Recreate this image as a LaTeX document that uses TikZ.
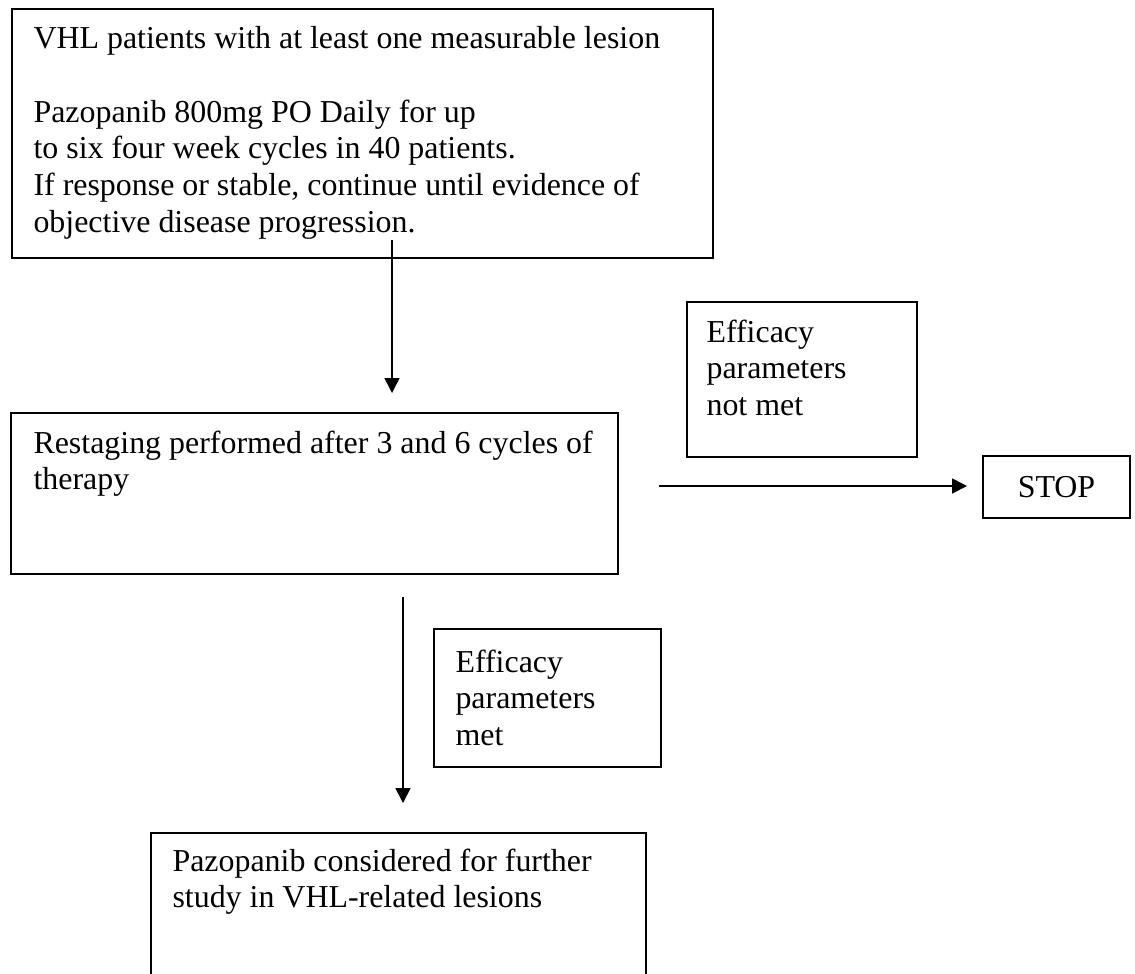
\documentclass[tikz,border=0pt]{standalone}
\usepackage{fontspec}
\setmainfont{Liberation Serif}
\usetikzlibrary{arrows.meta}
\newlength\px
\setlength\px{0.376pt}
\tikzset{
  box/.style={draw, line width=0.75pt, inner sep=0pt, anchor=north west},
  txt/.style={anchor=north west, inner sep=0pt, align=left, font=\fontsize{12}{13.8}\selectfont},
  flow/.style={-{Triangle[length=5.6pt,width=5.6pt]}, line width=0.6pt}
}
\begin{document}
\begin{tikzpicture}[x=\px, y=-\px]
    \clip (0,0) rectangle (1135,973);
    \node[box, minimum width=701*\px, minimum height=249*\px] (intake) at (11,8) {};
    \node[box, minimum width=607*\px, minimum height=161*\px] (restage) at (10,412) {};
    \node[box, minimum width=230*\px, minimum height=155*\px] (notmet) at (686,301) {};
    \node[box, minimum width=147*\px, minimum height=62*\px] (stop) at (982,455) {};
    \node[box, minimum width=227*\px, minimum height=138*\px] (met) at (433,628) {};
    \node[box, minimum width=495*\px, minimum height=200*\px] (further) at (150,832) {};
    % texts
    \node[txt] (intake-t) at (33,26) {VHL patients with at least one measurable lesion\\[13.8pt]
      Pazopanib 800mg PO Daily for up\\
      to six four week cycles in 40 patients.\\
      If response or stable, continue until evidence of\\
      objective disease progression.};
    \node[txt] (restage-t) at (33,430) {Restaging performed after 3 and 6 cycles of\\therapy};
    \node[txt] (notmet-t) at (706,319) {Efficacy\\parameters\\not met};
    \node[txt, anchor=center] (stop-t) at (stop.center) {STOP};
    \node[txt] (met-t) at (455,649) {Efficacy\\parameters\\met};
    \node[txt] (further-t) at (172,848) {Pazopanib considered for further\\study in VHL-related lesions};
    % arrows
    \coordinate (a1) at (392,240);
    \coordinate (a2) at (392,393);
    \coordinate (b1) at (659,486);
    \coordinate (b2) at (967,486);
    \coordinate (c1) at (403,597);
    \coordinate (c2) at (403,803);
    \draw[flow] (a1) -- (a2);
    \draw[flow] (b1) -- (b2);
    \draw[flow] (c1) -- (c2);
\end{tikzpicture}
\end{document}
